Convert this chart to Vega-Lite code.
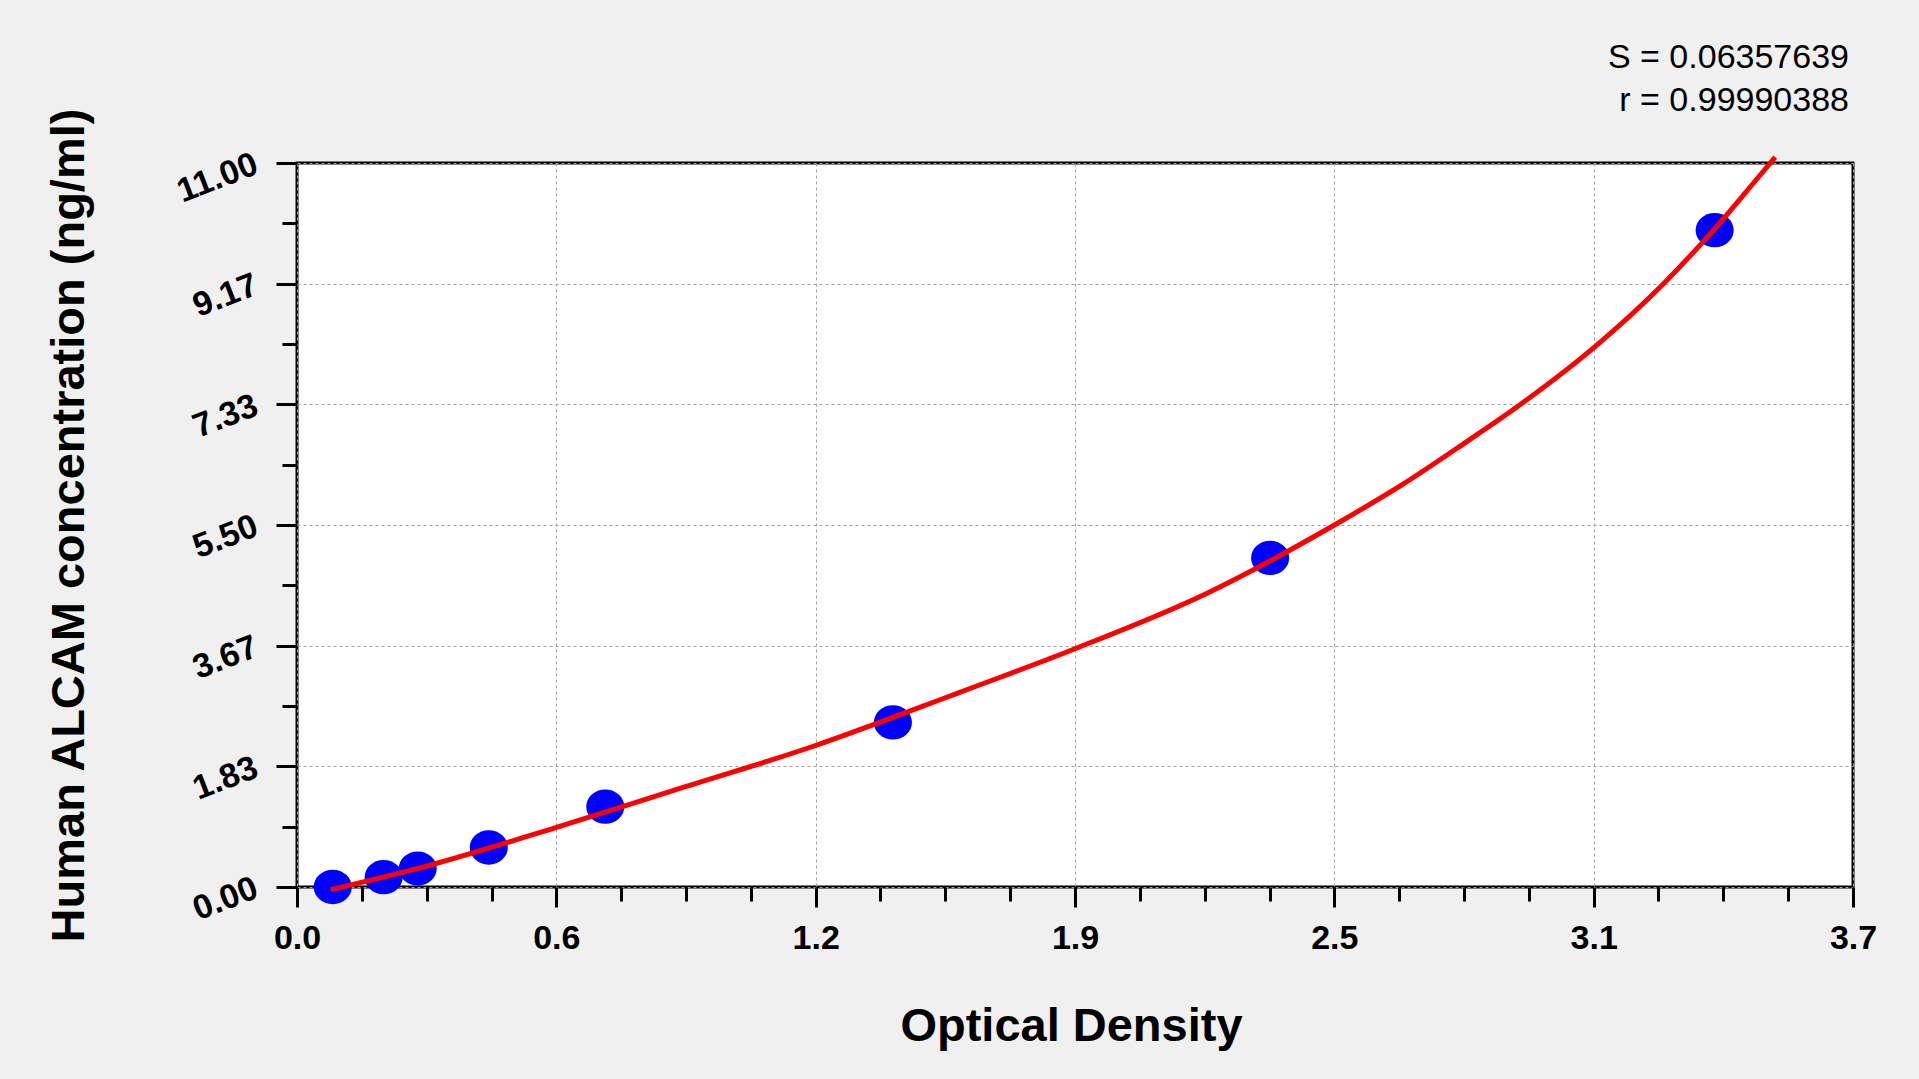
{
  "$schema": "https://vega.github.io/schema/vega-lite/v6.json",
  "width": 1556,
  "height": 724,
  "autosize": {"type": "none"},
  "padding": {"left": 297, "top": 163, "right": 66, "bottom": 192},
  "background": "#f0f0f0",
  "title": {
    "text": "S = 0.06357639",
    "subtitle": "r = 0.99990388",
    "anchor": "end",
    "frame": "group",
    "orient": "top",
    "font": "Liberation Sans",
    "fontSize": 34,
    "fontWeight": "normal",
    "color": "black",
    "subtitleFont": "Liberation Sans",
    "subtitleFontSize": 34,
    "subtitleColor": "black",
    "subtitlePadding": 9,
    "offset": -11,
    "dx": -4
  },
  "datasets": {
    "standards": [
      {"od": 0.085, "conc": 0.0},
      {"od": 0.206, "conc": 0.15},
      {"od": 0.287, "conc": 0.28},
      {"od": 0.456, "conc": 0.6},
      {"od": 0.733, "conc": 1.22},
      {"od": 1.417, "conc": 2.5},
      {"od": 2.314, "conc": 5.0},
      {"od": 3.371, "conc": 9.98}
    ],
    "curve": [
      {"od": 0.080, "conc": -0.04},
      {"od": 0.317, "conc": 0.333},
      {"od": 0.617, "conc": 0.906},
      {"od": 0.916, "conc": 1.51},
      {"od": 1.233, "conc": 2.15},
      {"od": 1.431, "conc": 2.61},
      {"od": 1.573, "conc": 2.95},
      {"od": 1.850, "conc": 3.62},
      {"od": 2.163, "conc": 4.46},
      {"od": 2.467, "conc": 5.50},
      {"od": 2.630, "conc": 6.12},
      {"od": 2.780, "conc": 6.76},
      {"od": 2.909, "conc": 7.33},
      {"od": 3.083, "conc": 8.19},
      {"od": 3.250, "conc": 9.17},
      {"od": 3.371, "conc": 10.0},
      {"od": 3.464, "conc": 10.70},
      {"od": 3.515, "conc": 11.09}
    ]
  },
  "layer": [
    {
      "data": {"name": "standards"},
      "mark": {
        "type": "point",
        "shape": "M-1,0A1,0.9,0,1,0,1,0A1,0.9,0,1,0,-1,0Z",
        "filled": true,
        "size": 1450,
        "color": "#0000ff",
        "opacity": 1,
        "strokeWidth": 0
      },
      "encoding": {
        "x": {
          "field": "od",
          "type": "quantitative",
          "scale": {"domain": [0, 3.7], "nice": false, "zero": false},
          "axis": {
            "title": "Optical Density",
            "values": [0, 0.1541667, 0.3083333, 0.4625, 0.6166667, 0.7708333, 0.925, 1.0791667, 1.2333333, 1.3875, 1.5416667, 1.6958333, 1.85, 2.0041667, 2.1583333, 2.3125, 2.4666667, 2.6208333, 2.775, 2.9291667, 3.0833333, 3.2375, 3.3916667, 3.5458333, 3.7],
            "labelExpr": "abs(datum.value*6/3.7 - round(datum.value*6/3.7)) < 0.01 ? format(datum.value, '.1f') : ''",
            "tickSize": {"condition": {"test": "abs(datum.value*6/3.7 - round(datum.value*6/3.7)) < 0.01", "value": 20}, "value": 14},
            "gridOpacity": {"condition": {"test": "abs(datum.value*6/3.7 - round(datum.value*6/3.7)) < 0.01", "value": 1}, "value": 0},
            "labelPadding": 14,
            "labelAngle": 0,
            "labelAlign": "center",
            "labelBaseline": "top",
            "titleX": 774,
            "titleY": 153,
            "titleAlign": "center",
            "titleBaseline": "alphabetic",
            "titleAngle": 0
          }
        },
        "y": {
          "field": "conc",
          "type": "quantitative",
          "scale": {"domain": [0, 11], "nice": false, "zero": false},
          "axis": {
            "title": "Human ALCAM concentration (ng/ml)",
            "values": [0, 0.4583333, 0.9166667, 1.375, 1.8333333, 2.2916667, 2.75, 3.2083333, 3.6666667, 4.125, 4.5833333, 5.0416667, 5.5, 5.9583333, 6.4166667, 6.875, 7.3333333, 7.7916667, 8.25, 8.7083333, 9.1666667, 9.625, 10.0833333, 10.5416667, 11],
            "labelExpr": "abs(datum.value*6/11 - round(datum.value*6/11)) < 0.01 ? format(datum.value, '.2f') : ''",
            "tickSize": {"condition": {"test": "abs(datum.value*6/11 - round(datum.value*6/11)) < 0.01", "value": 21}, "value": 15},
            "gridOpacity": {"condition": {"test": "abs(datum.value*6/11 - round(datum.value*6/11)) < 0.01", "value": 1}, "value": 0},
            "labelPadding": 20,
            "labelAngle": -21,
            "labelAlign": "right",
            "labelBaseline": "middle",
            "titleX": -214,
            "titleY": 362,
            "titleAlign": "center",
            "titleBaseline": "alphabetic",
            "titleAngle": -90
          }
        }
      }
    },
    {
      "data": {"name": "curve"},
      "mark": {"type": "line", "color": "#ff0000", "strokeWidth": 5, "interpolate": "monotone"},
      "encoding": {
        "x": {"field": "od", "type": "quantitative"},
        "y": {"field": "conc", "type": "quantitative"}
      }
    }
  ],
  "config": {
    "view": {"fill": "white", "stroke": "black", "strokeWidth": 3},
    "axis": {
      "domain": false,
      "grid": true,
      "gridColor": "#a0a0a0",
      "gridDash": [3, 3],
      "gridWidth": 1,
      "tickColor": "black",
      "tickWidth": 3,
      "labelFont": "Liberation Sans",
      "labelFontWeight": "bold",
      "labelFontSize": 34,
      "labelColor": "black",
      "labelOverlap": false,
      "labelFlush": false,
      "titleFont": "Liberation Sans",
      "titleFontWeight": "bold",
      "titleFontSize": 47,
      "titleColor": "black"
    }
  }
}
